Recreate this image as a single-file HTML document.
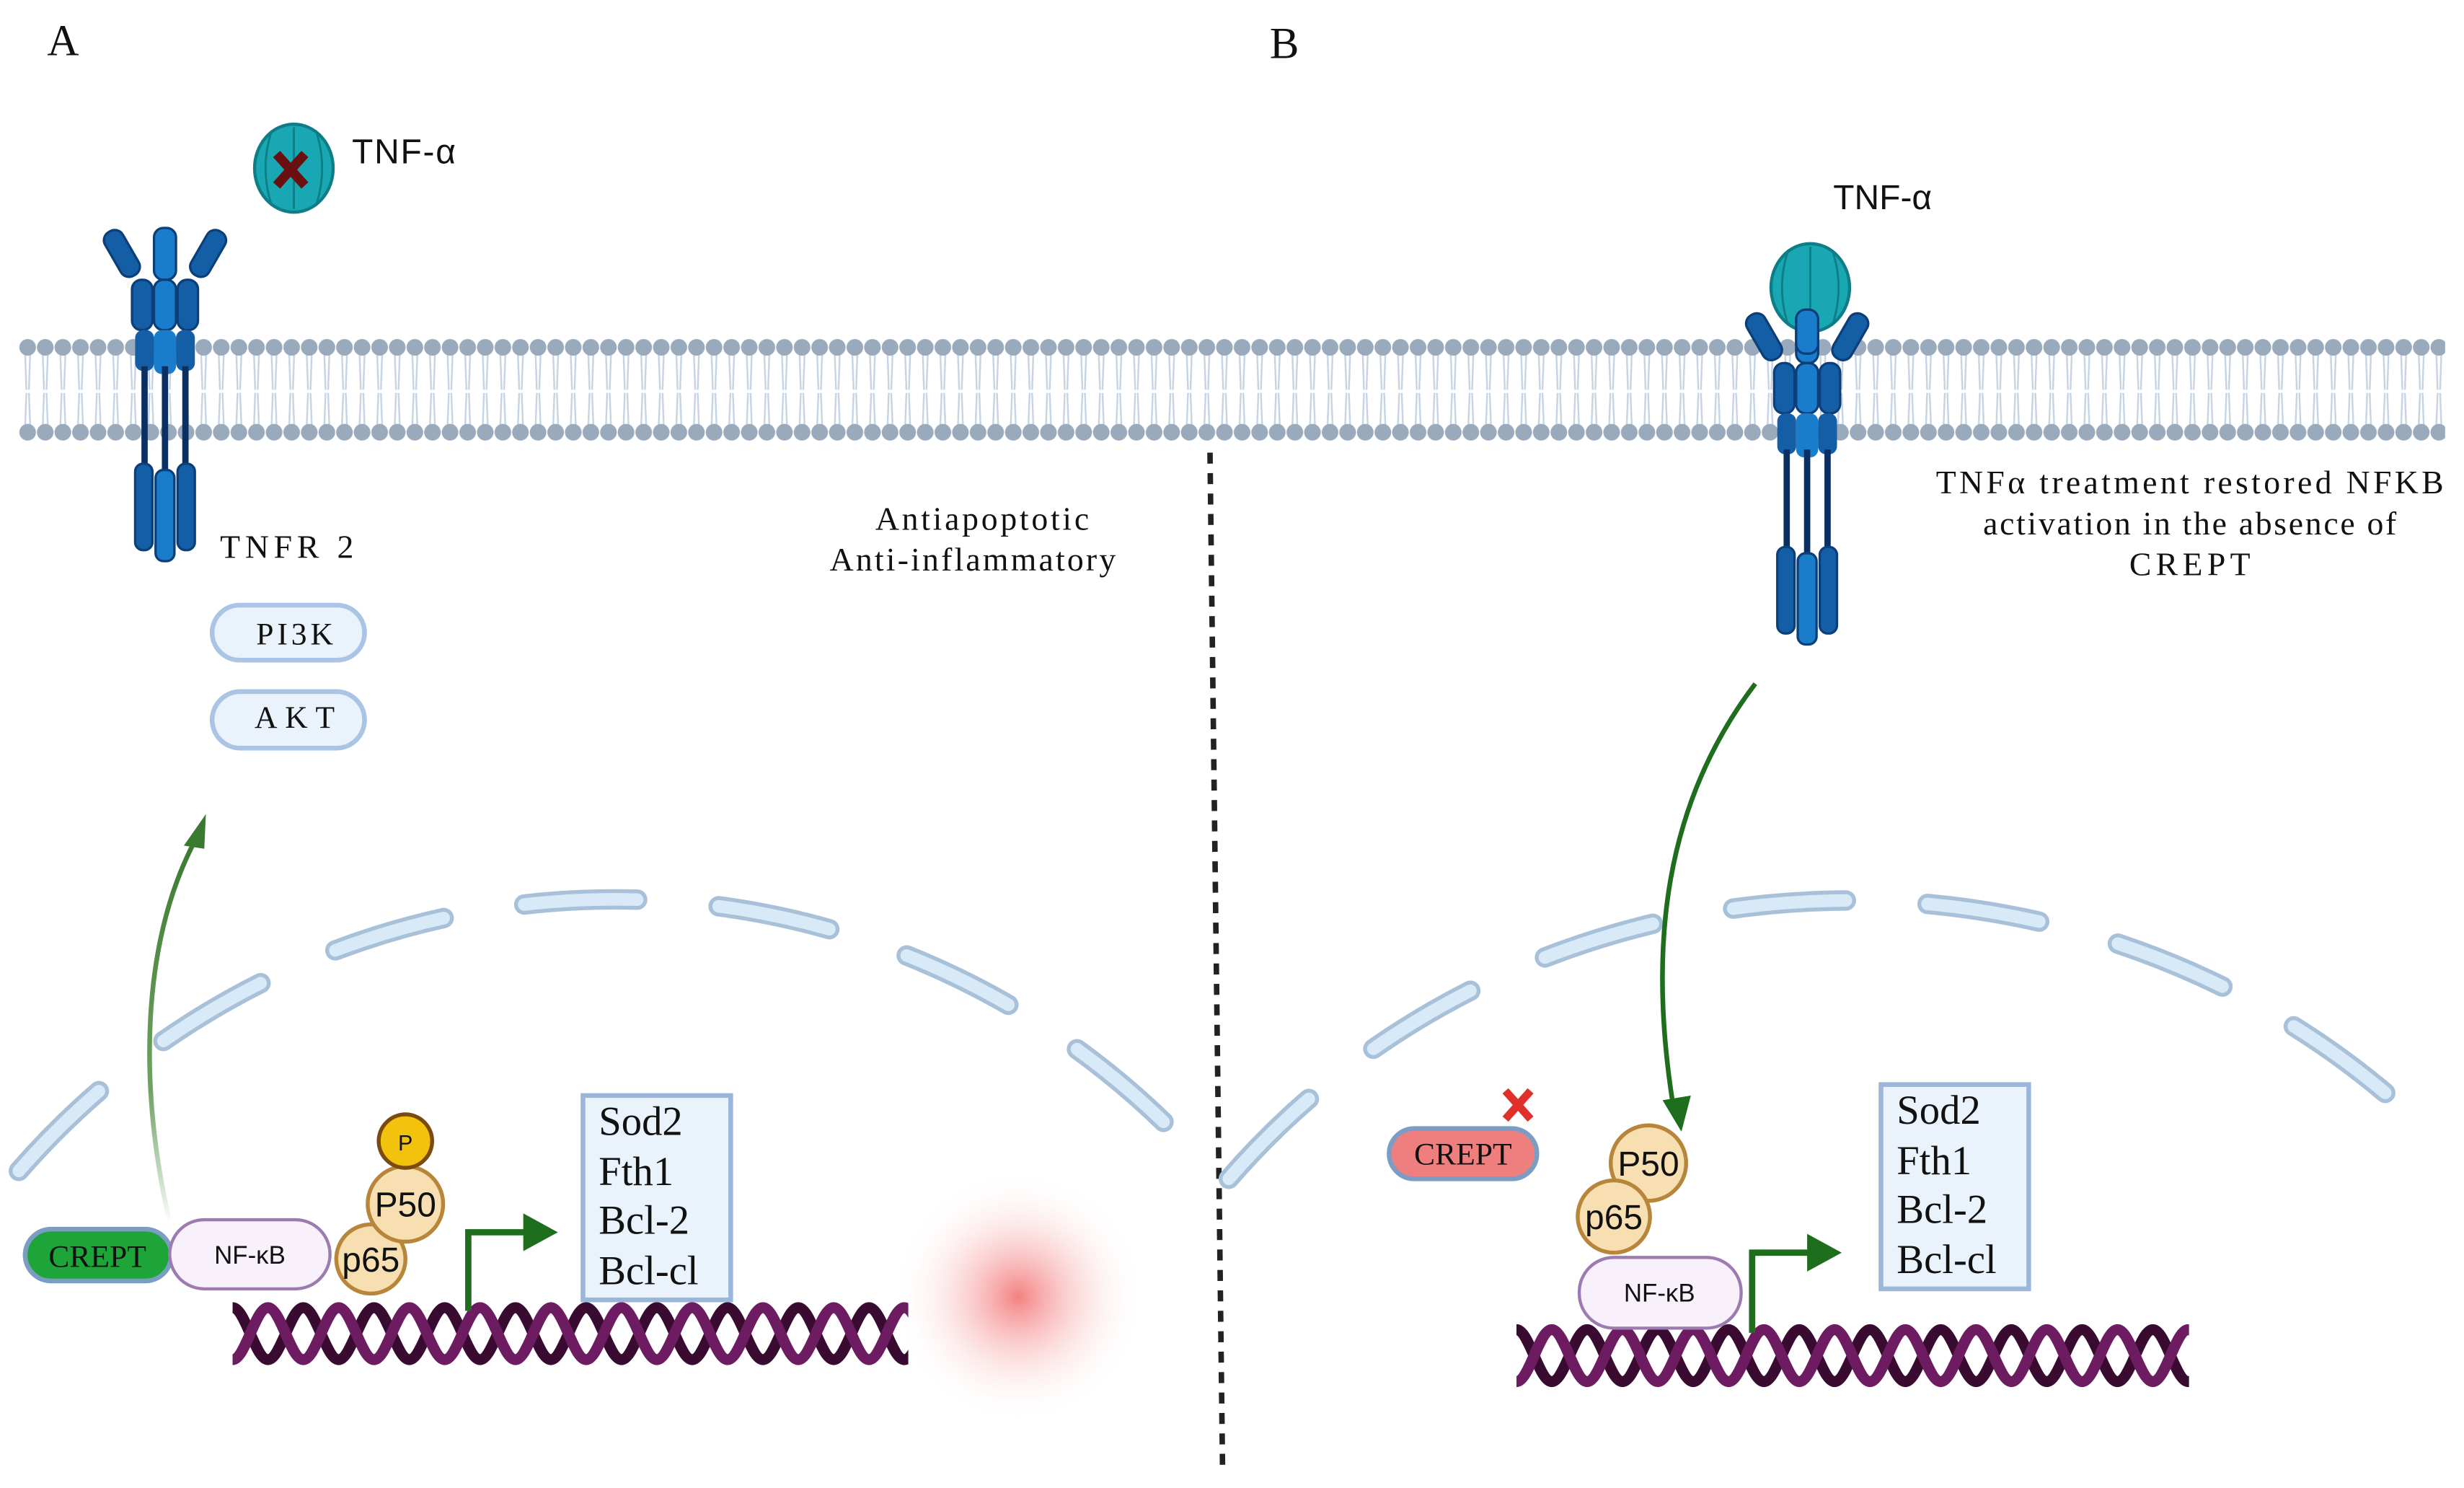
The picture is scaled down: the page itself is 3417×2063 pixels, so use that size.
<!DOCTYPE html>
<html><head><meta charset="utf-8"><style>
html,body{margin:0;padding:0;background:#fff}
svg{display:block}
.serif{font-family:"Liberation Serif",serif;fill:#111}
.sans{font-family:"Liberation Sans",sans-serif;fill:#111}
</style></head><body>
<svg width="3417" height="2063" viewBox="0 0 1568 946.7" preserveAspectRatio="none" xmlns="http://www.w3.org/2000/svg">
<defs>
<pattern id="mem" x="12" y="213" width="11.2" height="70" patternUnits="userSpaceOnUse">
 <line x1="4" y1="12" x2="4.8" y2="35" stroke="#c6d3e2" stroke-width="1.1"/>
 <line x1="7.2" y1="12" x2="6.4" y2="35" stroke="#c6d3e2" stroke-width="1.1"/>
 <line x1="4" y1="58" x2="4.8" y2="37" stroke="#c6d3e2" stroke-width="1.1"/>
 <line x1="7.2" y1="58" x2="6.4" y2="37" stroke="#c6d3e2" stroke-width="1.1"/>
 <circle cx="5.6" cy="8" r="5.3" fill="#9aaabd"/>
 <circle cx="5.6" cy="62" r="5.3" fill="#9aaabd"/>
</pattern>
<radialGradient id="glow"><stop offset="0" stop-color="#f26b6b" stop-opacity="0.85"/><stop offset="0.5" stop-color="#f8b0b0" stop-opacity="0.4"/><stop offset="1" stop-color="#fff" stop-opacity="0"/></radialGradient>
<linearGradient id="fadeA" x1="0" y1="1" x2="0" y2="0"><stop offset="0" stop-color="#2d7a2d" stop-opacity="0"/><stop offset="0.35" stop-color="#4d8a3a" stop-opacity="0.8"/><stop offset="1" stop-color="#3a7a30"/></linearGradient>
<g id="rec">
 <rect x="-34" y="0" width="13" height="32" rx="6" fill="#145ea6" stroke="#0c3e78" stroke-width="1.5" transform="rotate(-30 -27 16)"/>
 <rect x="21" y="0" width="13" height="32" rx="6" fill="#145ea6" stroke="#0c3e78" stroke-width="1.5" transform="rotate(30 27 16)"/>
 <rect x="-7" y="0" width="14" height="33" rx="6" fill="#1a7dcc" stroke="#0c3e78" stroke-width="1.5"/>
 <rect x="-21" y="33" width="13" height="32" rx="6" fill="#145ea6" stroke="#0c3e78" stroke-width="1.5"/>
 <rect x="8" y="33" width="13" height="32" rx="6" fill="#145ea6" stroke="#0c3e78" stroke-width="1.5"/>
 <rect x="-7" y="33" width="14" height="32" rx="6" fill="#1a7dcc" stroke="#0c3e78" stroke-width="1.5"/>
 <rect x="-19" y="65" width="12" height="26" rx="5" fill="#145ea6"/>
 <rect x="7" y="65" width="12" height="26" rx="5" fill="#145ea6"/>
 <rect x="-7" y="65" width="14" height="28" rx="5" fill="#1a7dcc"/>
 <line x1="-13" y1="88" x2="-13" y2="152" stroke="#0b2f63" stroke-width="4"/>
 <line x1="0" y1="88" x2="0" y2="156" stroke="#0b2f63" stroke-width="4"/>
 <line x1="13" y1="88" x2="13" y2="152" stroke="#0b2f63" stroke-width="4"/>
 <rect x="-19" y="150" width="11" height="55" rx="5" fill="#145ea6" stroke="#0c3e78" stroke-width="1.5"/>
 <rect x="8" y="150" width="11" height="55" rx="5" fill="#145ea6" stroke="#0c3e78" stroke-width="1.5"/>
 <rect x="-6" y="154" width="12" height="58" rx="5" fill="#1a7dcc" stroke="#0c3e78" stroke-width="1.5"/>
</g>
<g id="tnf">
 <ellipse cx="0" cy="0" rx="25" ry="28" fill="#19a7b3" stroke="#0e7d88" stroke-width="2"/>
 <path d="M0,-26 L0,26 M-14,-24 Q-22,0 -14,24 M14,-24 Q22,0 14,24" stroke="#0e7d88" stroke-width="1.3" fill="none"/>
</g>
<path id="dna1" d="M0,0 c8.1,0 14.4,33 22.5,33 s14.4,-33 22.5,-33 s14.4,33 22.5,33 s14.4,-33 22.5,-33 s14.4,33 22.5,33 s14.4,-33 22.5,-33 s14.4,33 22.5,33 s14.4,-33 22.5,-33 s14.4,33 22.5,33 s14.4,-33 22.5,-33 s14.4,33 22.5,33 s14.4,-33 22.5,-33 s14.4,33 22.5,33 s14.4,-33 22.5,-33 s14.4,33 22.5,33 s14.4,-33 22.5,-33 s14.4,33 22.5,33 s14.4,-33 22.5,-33 s14.4,33 22.5,33 s14.4,-33 22.5,-33 s14.4,33 22.5,33" fill="none"/>
<path id="dna2" d="M0,33 c8.1,0 14.4,-33 22.5,-33 s14.4,33 22.5,33 s14.4,-33 22.5,-33 s14.4,33 22.5,33 s14.4,-33 22.5,-33 s14.4,33 22.5,33 s14.4,-33 22.5,-33 s14.4,33 22.5,33 s14.4,-33 22.5,-33 s14.4,33 22.5,33 s14.4,-33 22.5,-33 s14.4,33 22.5,33 s14.4,-33 22.5,-33 s14.4,33 22.5,33 s14.4,-33 22.5,-33 s14.4,33 22.5,33 s14.4,-33 22.5,-33 s14.4,33 22.5,33 s14.4,-33 22.5,-33 s14.4,33 22.5,33 s14.4,-33 22.5,-33" fill="none"/>
<clipPath id="cA"><rect x="148" y="820" width="430" height="60"/></clipPath>
<clipPath id="cB"><rect x="965" y="835" width="428" height="60"/></clipPath>
</defs>

<text x="30" y="35" class="serif" font-size="28">A</text>
<text x="808" y="37" class="serif" font-size="28">B</text>

<rect x="12" y="213" width="1544" height="70" fill="url(#mem)"/>

<line x1="770" y1="288" x2="778" y2="935" stroke="#222" stroke-width="3.5" stroke-dasharray="7,6"/>

<g fill="none" stroke-linecap="round" stroke-dasharray="72,52">
 <path d="M12,745 A502,502 0 0 1 770,745" stroke="#a8c1d9" stroke-width="13"/>
 <path d="M12,745 A502,502 0 0 1 770,745" stroke="#d8e9f7" stroke-width="8"/>
 <path d="M782,750 A510,480 0 0 1 1555,730" stroke="#a8c1d9" stroke-width="13"/>
 <path d="M782,750 A510,480 0 0 1 1555,730" stroke="#d8e9f7" stroke-width="8"/>
</g>

<!-- Panel A -->
<use href="#rec" x="105" y="145"/>
<use href="#tnf" x="187" y="107"/>
<path d="M176,98 L194,118 M194,98 L176,118" stroke="#6b1010" stroke-width="6"/>
<text x="224" y="104" class="sans" font-size="22" textLength="66">TNF-α</text>
<text x="140" y="355" class="serif" font-size="21" textLength="85">TNFR 2</text>
<rect x="135" y="385" width="97" height="35" rx="17.5" fill="#eaf2fb" stroke="#a9c4e4" stroke-width="3"/>
<text x="163" y="410" class="serif" font-size="20" textLength="49">PI3K</text>
<rect x="135" y="440" width="97" height="36" rx="18" fill="#eaf2fb" stroke="#a9c4e4" stroke-width="3"/>
<text x="162" y="463" class="serif" font-size="20" textLength="51">AKT</text>
<text x="557" y="337" class="serif" font-size="21" textLength="136">Antiapoptotic</text>
<text x="528" y="363" class="serif" font-size="21" textLength="182">Anti-inflammatory</text>

<path d="M108,778 C88,690 90,600 124,535" stroke="url(#fadeA)" stroke-width="3" fill="none"/>
<path d="M131,518 L117,538 L130,540 Z" fill="#3a7a30"/>

<circle cx="648" cy="825" r="80" fill="url(#glow)"/>

<g clip-path="url(#cA)">
 <use href="#dna1" x="148" y="832" stroke="#3a0b30" stroke-width="7"/>
 <use href="#dna2" x="148" y="832" stroke="#6e1c62" stroke-width="7"/>
</g>

<rect x="16" y="782" width="93" height="33" rx="16.5" fill="#1ea53a" stroke="#7c9dc2" stroke-width="3"/>
<text x="62" y="806" class="serif" font-size="20" text-anchor="middle">CREPT</text>
<rect x="108" y="776" width="102" height="44" rx="22" fill="#f8f0fa" stroke="#9c7bb0" stroke-width="2"/>
<text x="159" y="804" class="sans" font-size="16" text-anchor="middle">NF-κB</text>
<circle cx="236" cy="801" r="22" fill="#f8dfb2" stroke="#b8863b" stroke-width="2.5"/>
<text x="236" y="809" class="sans" font-size="22" text-anchor="middle">p65</text>
<circle cx="258" cy="766" r="24" fill="#f8dfb2" stroke="#b8863b" stroke-width="2.5"/>
<text x="258" y="774" class="sans" font-size="22" text-anchor="middle">P50</text>
<circle cx="258" cy="726" r="17" fill="#f2c20c" stroke="#7a4a10" stroke-width="2.5"/>
<text x="258" y="732" class="sans" font-size="14" text-anchor="middle">P</text>

<path d="M298,834 V784 H335" stroke="#1e6e1e" stroke-width="4" fill="none"/>
<path d="M333,772 L355,784 L333,796 Z" fill="#1e6e1e"/>

<rect x="371" y="697" width="94" height="130" fill="#eaf3fc" stroke="#9ab6d8" stroke-width="3"/>
<g class="serif" font-size="26"><text x="381" y="722">Sod2</text><text x="381" y="754">Fth1</text><text x="381" y="785">Bcl-2</text><text x="381" y="817">Bcl-cl</text></g>

<!-- Panel B -->
<use href="#rec" x="1150" y="198"/>
<use href="#tnf" x="1152" y="183"/>
<rect x="1143" y="197" width="14" height="28" rx="6" fill="#1a7dcc" stroke="#0c3e78" stroke-width="1.5"/>
<text x="1198" y="133" class="sans" font-size="22" text-anchor="middle">TNF-α</text>
<g class="serif" font-size="21">
<text x="1232" y="314" textLength="323">TNFα treatment restored NFKB</text>
<text x="1262" y="340" textLength="263">activation in the absence of</text>
<text x="1355" y="366" textLength="77">CREPT</text></g>

<path d="M1117,435 C1060,510 1048,600 1065,705" stroke="#1e6e1e" stroke-width="3" fill="none"/>
<path d="M1058,700 L1070,720 L1076,697 Z" fill="#1e6e1e"/>

<g clip-path="url(#cB)">
 <use href="#dna1" x="965" y="846" stroke="#3a0b30" stroke-width="7"/>
 <use href="#dna2" x="965" y="846" stroke="#6e1c62" stroke-width="7"/>
</g>

<path d="M958,694 L974,712 M974,694 L958,712" stroke="#e0302b" stroke-width="5"/>
<rect x="884" y="718" width="94" height="32" rx="16" fill="#ef7f7f" stroke="#7c9dc2" stroke-width="3"/>
<text x="931" y="741" class="serif" font-size="20" text-anchor="middle">CREPT</text>
<circle cx="1049" cy="740" r="24" fill="#f8dfb2" stroke="#b8863b" stroke-width="2.5"/>
<text x="1049" y="748" class="sans" font-size="22" text-anchor="middle">P50</text>
<circle cx="1027" cy="774" r="23" fill="#f8dfb2" stroke="#b8863b" stroke-width="2.5"/>
<text x="1027" y="782" class="sans" font-size="22" text-anchor="middle">p65</text>
<rect x="1005" y="800" width="103" height="45" rx="22" fill="#f8f0fa" stroke="#9c7bb0" stroke-width="2"/>
<text x="1056" y="828" class="sans" font-size="16" text-anchor="middle">NF-κB</text>

<path d="M1115,848 V797 H1152" stroke="#1e6e1e" stroke-width="4" fill="none"/>
<path d="M1150,785 L1172,797 L1150,809 Z" fill="#1e6e1e"/>

<rect x="1197" y="690" width="94" height="130" fill="#eaf3fc" stroke="#9ab6d8" stroke-width="3"/>
<g class="serif" font-size="26"><text x="1207" y="715">Sod2</text><text x="1207" y="747">Fth1</text><text x="1207" y="778">Bcl-2</text><text x="1207" y="810">Bcl-cl</text></g>
</svg>
</body></html>
